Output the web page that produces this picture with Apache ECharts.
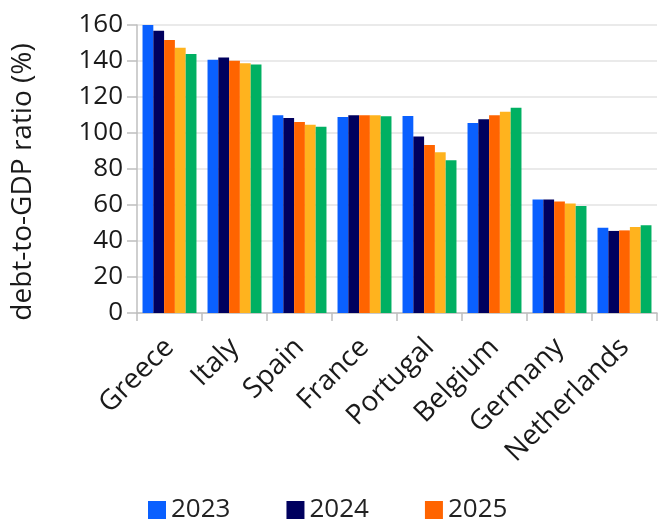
<!DOCTYPE html>
<html>
<head>
<meta charset="utf-8">
<script src="https://cdn.jsdelivr.net/npm/echarts@6/dist/echarts.min.js"></script>
<style>
  html, body { margin: 0; padding: 0; background: #fff; }
  #main { width: 659px; height: 522px; }
</style>
</head>
<body>
<div id="main"></div>
<script>
// data
var countries = ['Greece', 'Italy', 'Spain', 'France', 'Portugal', 'Belgium', 'Germany', 'Netherlands'];
var years = ['2023', '2024', '2025', '2026', '2027'];
var v2023 = [160.4, 140.7, 109.8, 108.9, 109.4, 105.6, 63.1, 47.4];
var v2024 = [156.8, 142.0, 108.3, 109.8, 98.0, 107.6, 63.1, 45.6];
var v2025 = [151.7, 140.2, 106.1, 109.8, 93.3, 109.8, 62.0, 45.9];
var v2026 = [147.4, 138.7, 104.6, 109.8, 89.3, 111.8, 60.9, 47.8];
var v2027 = [143.9, 138.0, 103.5, 109.3, 84.8, 114.0, 59.4, 48.7];
var yTicks = [0, 20, 40, 60, 80, 100, 120, 140, 160];

var colors = ['#0a60ff', '#00005e', '#ff6400', '#ffb31e', '#00b062'];
var values = [v2023, v2024, v2025, v2026, v2027];

var myChart = echarts.init(document.getElementById('main'));
var font = '"Open Sans", "DejaVu Sans", sans-serif';

var series = [];
years.forEach(function (y, i) {
    series.push({
        name: y,
        type: 'bar',
        data: values[i],
        barGap: '0%',
        barCategoryGap: '17%',
        itemStyle: { color: colors[i] }
    });
});

option = {
    animation: false,
    textStyle: { fontFamily: font },
    grid: {
        left: 137,
        right: 2,
        top: 25,
        bottom: 209,
        outerBoundsMode: 'none',
        containLabel: false
    },
    legend: {
        data: ['2023', '2024', '2025'],
        top: 497,
        left: 148,
        padding: 0,
        itemWidth: 18,
        itemHeight: 18,
        itemGap: 56,
        icon: 'rect',
        textStyle: { fontSize: 26, color: '#222', fontFamily: font }
    },
    xAxis: {
        type: 'category',
        data: countries,
        axisLine: { lineStyle: { color: '#bfbfbf', width: 1.5 } },
        axisTick: { show: true, length: 8, lineStyle: { color: '#bfbfbf', width: 1.5 } },
        axisLabel: {
            rotate: 45,
            margin: 30,
            fontSize: 28,
            color: '#1a1a1a',
            interval: 0
        }
    },
    yAxis: {
        type: 'value',
        min: yTicks[0],
        max: yTicks[yTicks.length - 1],
        interval: 20,
        name: 'debt-to-GDP ratio (%)',
        nameLocation: 'middle',
        nameGap: 100,
        nameTextStyle: { fontSize: 28, color: '#1a1a1a', padding: [0, 26, 0, 0] },
        axisLine: { show: true, lineStyle: { color: '#bfbfbf', width: 1.5 } },
        axisTick: { show: true, length: 10, lineStyle: { color: '#bfbfbf', width: 1.5 } },
        axisLabel: { fontSize: 26, color: '#1a1a1a', margin: 14 },
        splitLine: { lineStyle: { color: '#e3e3e3', width: 1.5 } }
    },
    series: series
};

myChart.setOption(option);
</script>
</body>
</html>
